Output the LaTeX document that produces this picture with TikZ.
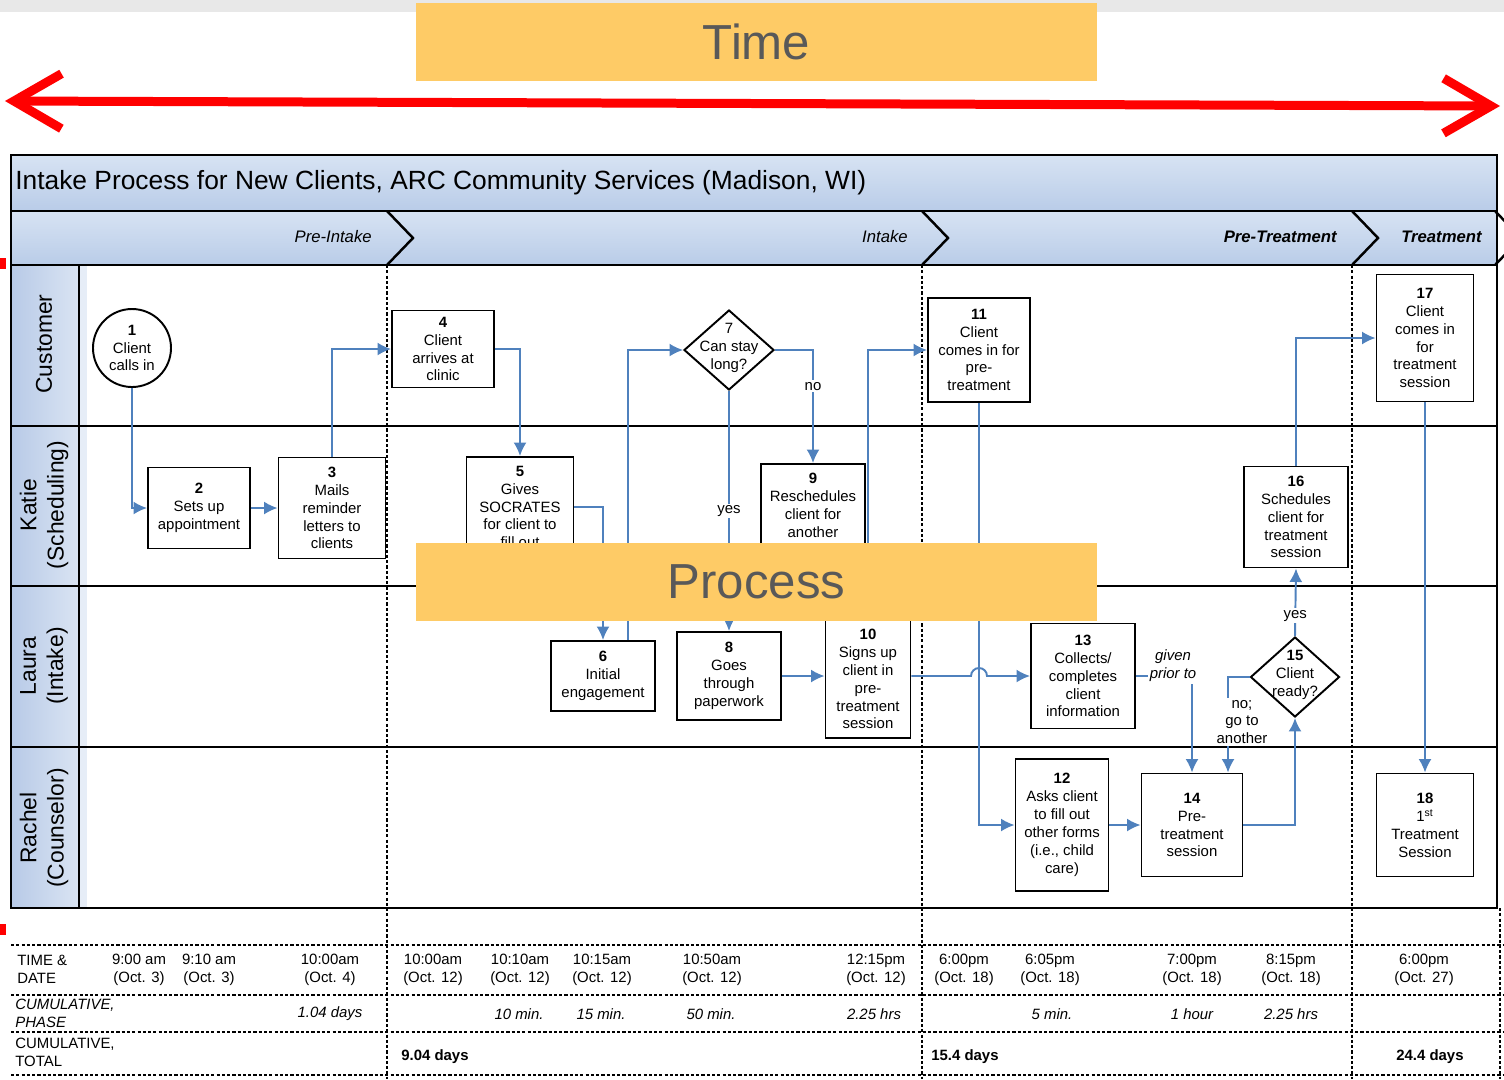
\documentclass[tikz,border=0pt]{standalone}
\usepackage{fontspec}
\setmainfont{Liberation Sans}
\usetikzlibrary{arrows.meta,shapes.geometric}

\definecolor{flowblue}{HTML}{4F81BD}
\definecolor{notebg}{HTML}{FECB66}
\definecolor{notetext}{HTML}{595959}
\definecolor{topband}{HTML}{E8E8E8}
\definecolor{headtop}{HTML}{D7E3F3}
\definecolor{headbot}{HTML}{B9CCE8}
\definecolor{laneleft}{HTML}{B8CAE7}
\definecolor{laneright}{HTML}{DAE4F3}
\definecolor{laneshadow}{HTML}{E6EDF7}

\newcommand\stepfont{\fontsize{8.5}{10.2}\selectfont}
\newcommand\cellfont{\fontsize{8.5}{10.2}\selectfont}
\newcommand\lanefont{\fontsize{13}{15.5}\selectfont}
\newcommand\phasefont{\fontsize{9.5}{11}\selectfont\itshape}
\newcommand\titlefont{\fontsize{15}{17}\selectfont}
\newcommand\notefont{\fontsize{28}{32}\selectfont}

\begin{document}
\begin{tikzpicture}[x=0.02cm, y=-0.02cm,
  >={Latex[length=0.27cm, width=0.26cm]},
  stepbox/.style={draw, line width=1.1pt, fill=white, align=center, font=\stepfont, inner sep=1pt},
  boxsize/.style 2 args={minimum width=#1*0.02cm, minimum height=#2*0.02cm},
  decision/.style={diamond, draw, line width=1.1pt, fill=white, inner sep=0pt,
    minimum width=90*0.02cm, minimum height=80*0.02cm},
  flow/.style={draw=flowblue, line width=1.1pt, ->},
  flowlabel/.style={fill=white, font=\stepfont, inner sep=1pt, align=center},
  laneline/.style={line width=1.4pt},
  phaseline/.style={line width=1.1pt, dash pattern=on 1.8pt off 1.2pt},
  rowline/.style={line width=1.1pt, dash pattern=on 1.8pt off 1.2pt},
  lanelabel/.style={rotate=90, font=\lanefont, align=center},
  cell/.style={font=\cellfont, align=center, inner sep=0pt},
  note/.style={fill=notebg, font=\notefont, text=notetext,
    minimum width=681*0.02cm, minimum height=78*0.02cm}]

\clip (0,0) rectangle (1504,1079);

% ============================
% Time note and arrow
% ============================
\fill[topband] (0,0) rectangle (1504,12);
\node[note] (timenote) at (756.5,41.5) {Time};

\coordinate (arrowL) at (5,101);
\coordinate (arrowR) at (1500,106);
\draw[red, line width=0.18cm,
  {Straight Barb[length=0.95cm,width=1.1cm]}-{Straight Barb[length=0.95cm,width=1.1cm]}]
  (arrowL) -- (arrowR);

% red marks on the left edge
\fill[red] (0,258) rectangle (6,269);
\fill[red] (0,924) rectangle (6,935);

% ============================
% Frame, title and phases
% ============================
\draw[laneline, top color=headtop, bottom color=headbot] (11,155) rectangle (1497,211);
\draw[laneline, top color=headtop, bottom color=headbot] (11,211) rectangle (1497,265);
\node[anchor=west, font=\titlefont, inner sep=0pt] (title) at (15,183)
  {Intake Process for New Clients, ARC Community Services (Madison, WI)};

\foreach \cx in {387,922,1352,1495}
  \draw[laneline] (\cx,211) -- (\cx+26,238) -- (\cx,265);

\node[anchor=east, font=\phasefont, inner sep=0pt] (phpre) at (372,237) {Pre-Intake};
\node[anchor=east, font=\phasefont, inner sep=0pt] (phint) at (908,237) {Intake};
\node[anchor=east, font=\phasefont\bfseries, inner sep=0pt] (phpt) at (1337,237) {Pre-Treatment};
\node[anchor=east, font=\phasefont\bfseries, inner sep=0pt] (phtr) at (1482,237) {Treatment};

% ============================
% Lanes
% ============================
\shade[left color=laneleft, right color=laneright] (11,265) rectangle (79,908);
\fill[laneshadow] (79,265) rectangle (87,908);
\draw[laneline] (11,265) rectangle (1497,908);
\draw[laneline] (79,265) -- (79,908);
\foreach \ly in {426,586,747}
  \draw[laneline] (11,\ly) -- (1497,\ly);

\node[lanelabel] (lcust) at (44,344) {Customer};
\node[lanelabel] (lkatie) at (44,505) {Katie\\(Scheduling)};
\node[lanelabel] (llaura) at (44,666) {Laura\\(Intake)};
\node[lanelabel] (lrachel) at (44,828) {Rachel\\(Counselor)};

% phase boundaries
\foreach \cx in {387,922,1352}
  \draw[phaseline] (\cx,265) -- (\cx,1079);
\draw[phaseline] (1500,908) -- (1500,1079);

% ============================
% Steps
% ============================
\node[circle, draw, line width=1.1pt, fill=white, minimum size=78*0.02cm, inner sep=0pt,
  align=center, font=\stepfont] (n1) at (132,348) {\textbf{1}\\Client\\calls in};
\node[stepbox, boxsize={102}{81}] (n2) at (199,508) {\textbf{2}\\Sets up\\appointment};
\node[stepbox, boxsize={107}{101}] (n3) at (332,508) {\textbf{3}\\Mails\\reminder\\letters to\\clients};
\node[stepbox, boxsize={102}{77}] (n4) at (443,349) {\textbf{4}\\Client\\arrives at\\clinic};
\node[stepbox, boxsize={107}{100}] (n5) at (520,507) {\textbf{5}\\Gives\\SOCRATES\\for client to\\fill out};
\node[stepbox, boxsize={104}{70}] (n6) at (603,676) {\textbf{6}\\Initial\\engagement};
\node[decision] (d7) at (729,350) {};
\node[font=\stepfont, align=center, inner sep=0pt] (t7) at (729,348) {7\\Can stay\\long?};
\node[stepbox, boxsize={104}{88}] (n8) at (729,676) {\textbf{8}\\Goes\\through\\paperwork};
\node[stepbox, boxsize={104}{100}] (n9) at (813,514) {\textbf{9}\\Reschedules\\client for\\another\\\mbox{}};
\node[stepbox, boxsize={85}{118}] (n10) at (868,679) {\textbf{10}\\Signs up\\client in\\pre-\\treatment\\session};
\node[stepbox, boxsize={102}{104}] (n11) at (979,350) {\textbf{11}\\Client\\comes in for\\pre-\\treatment};
\node[stepbox, boxsize={93}{132}] (n12) at (1062,825) {\textbf{12}\\Asks client\\to fill out\\other forms\\(i.e., child\\care)};
\node[stepbox, boxsize={104}{105}] (n13) at (1083,676) {\textbf{13}\\Collects/\\completes\\client\\information};
\node[stepbox, boxsize={101}{103}] (n14) at (1192,825) {\textbf{14}\\Pre-\\treatment\\session};
\node[decision, minimum width=89*0.02cm] (d15) at (1295,677) {};
\node[font=\stepfont, align=center, inner sep=0pt] (t15) at (1295,675) {\textbf{15}\\Client\\ready?};
\node[stepbox, boxsize={104}{101}] (n16) at (1296,517) {\textbf{16}\\Schedules\\client for\\treatment\\session};
\node[stepbox, boxsize={97}{127}] (n17) at (1425,338) {\textbf{17}\\Client\\comes in\\for\\treatment\\session};
\node[stepbox, boxsize={97}{103}] (n18) at (1425,825) {\textbf{18}\\1\textsuperscript{st}\\Treatment\\Session};

% ============================
% Flow
% ============================
\draw[flow] (n1.south) |- (n2.west);
\draw[flow] (n2.east) -- (n3.west);
\draw[flow] (n3.north) |- (n4.west);
\draw[flow] (n4.east) -| (n5.north);
\draw[flow] (n5.east) -| (n6.north);
\draw[flow] ([xshift=25*0.02cm]n6.north) |- (d7.west);
\draw[flow] (d7.south) -- node[flowlabel] (lyes7) {yes} (n8.north);
\draw[flow] (d7.east) -| node[flowlabel, pos=0.66] (lno7) {no} (n9.north);
\draw[flow] (n8.east) -- (n8.east -| n10.west);
\draw[flow] (n10.north) |- (n11.west);
\draw[flow] (n11.south) |- (n12.west);

% line hop over 11 -> 12
\coordinate (hop) at (n11.south |- n13.west);
\draw[flow] (n10.east |- n13.west) -- ([xshift=-0.16cm]hop)
  arc[start angle=180, end angle=0, radius=0.16cm] -- (n13.west);

\draw[flow] (n13.east) -| (n14.north);
\node[flowlabel, font=\stepfont\itshape] (lgiven) at (1173,666) {given\\prior to};
\draw[flow] (n12.east) -- (n14.west);
\draw[flow] (n14.east) -| (d15.south);
\draw[flow] (d15.north) -- node[flowlabel, pos=0.3] (lyes15) {yes} (n16.south);
\draw[flow] (d15.west) -| ([xshift=36*0.02cm]n14.north);
\node[flowlabel] (lno15) at (1242,722) {no;\\go to\\another};
\draw[flow] (n16.north) |- (n17.west);
\draw[flow] (n17.south) -- (n18.north);

% ============================
% Time table
% ============================
\foreach \ry in {945,995,1032,1075}
  \draw[rowline] (11,\ry) -- (1504,\ry);

\node[cell, anchor=west, align=left] (rtime) at (17,969) {TIME \&\\DATE};
\node[cell, anchor=west, align=left, font=\cellfont\itshape] (rphase) at (15,1013) {CUMULATIVE,\\PHASE};
\node[cell, anchor=west, align=left] (rtotal) at (15,1052) {CUMULATIVE,\\TOTAL};

\foreach \tx/\ttxt [count=\i] in {139/{9:00 am\\(Oct. 3)}, 209/{9:10 am\\(Oct. 3)},
    330/{10:00am\\(Oct. 4)}, 433/{10:00am\\(Oct. 12)}, 520/{10:10am\\(Oct. 12)},
    602/{10:15am\\(Oct. 12)}, 712/{10:50am\\(Oct. 12)}, 876/{12:15pm\\(Oct. 12)},
    964/{6:00pm\\(Oct. 18)}, 1050/{6:05pm\\(Oct. 18)}, 1192/{7:00pm\\(Oct. 18)},
    1291/{8:15pm\\(Oct. 18)}, 1424/{6:00pm\\(Oct. 27)}}
  \node[cell] (time\i) at (\tx,970) {\ttxt};

\foreach \tx/\ttxt [count=\i] in {330/1.04 days, 519/10 min., 601/15 min., 711/50 min.,
    874/2.25 hrs, 1052/5 min., 1192/1 hour, 1291/2.25 hrs}
  \node[cell, font=\cellfont\itshape] (phase\i) at (\tx,1014) {\ttxt};

\node[cell, anchor=west, font=\cellfont\bfseries] (total1) at (401,1057) {9.04 days};
\node[cell, anchor=west, font=\cellfont\bfseries] (total2) at (931,1057) {15.4 days};
\node[cell, anchor=west, font=\cellfont\bfseries] (total3) at (1396,1057) {24.4 days};

% ============================
% Process note
% ============================
\node[note] (procnote) at (756.5,582) {Process};

\end{tikzpicture}
\end{document}
